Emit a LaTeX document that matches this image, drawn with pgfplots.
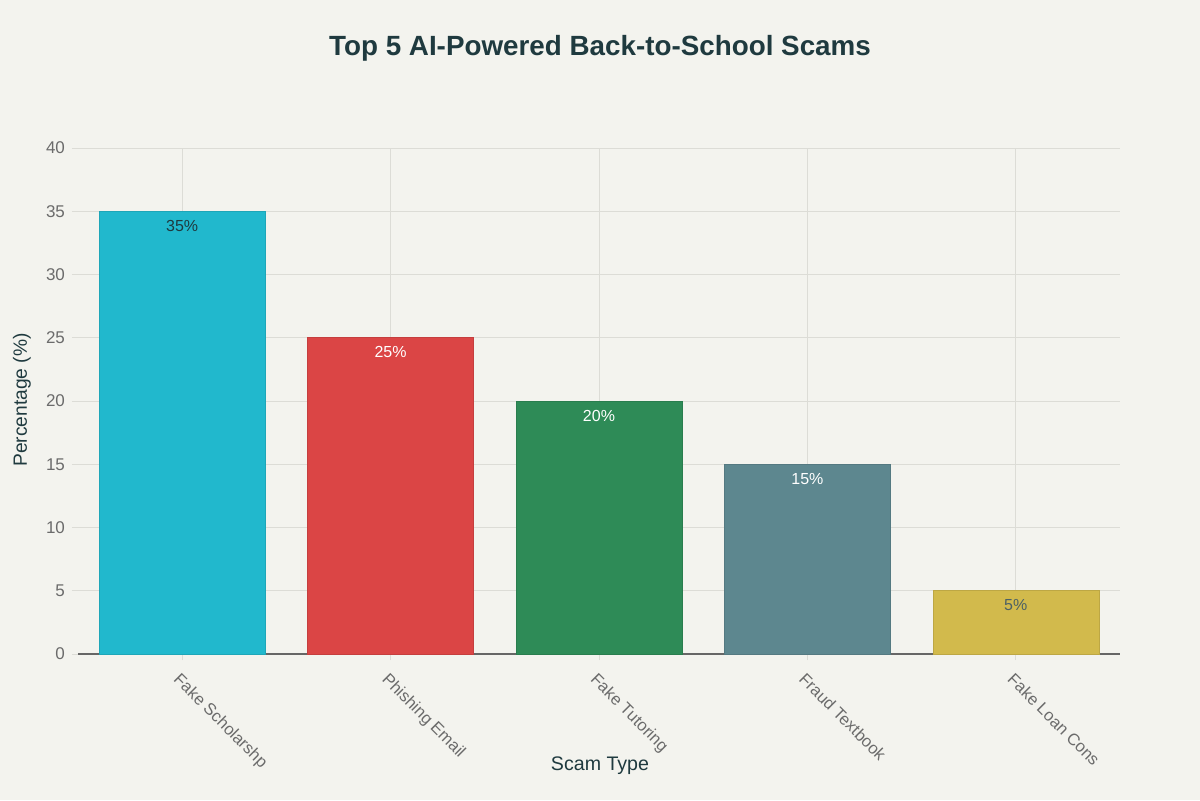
\documentclass[border=0pt]{standalone}
\usepackage{fontspec}
\setmainfont{Liberation Sans}
\usepackage{pgfplots}
\pgfplotsset{compat=1.18}

\definecolor{bg}{HTML}{F3F3EE}
\definecolor{gridc}{HTML}{DCDCD6}
\definecolor{titlec}{HTML}{1F3A3F}
\definecolor{tickc}{HTML}{6B6B6B}
\definecolor{cA}{HTML}{21B8CD}
\definecolor{cB}{HTML}{DB4545}
\definecolor{cC}{HTML}{2E8B57}
\definecolor{cD}{HTML}{5D878F}
\definecolor{cE}{HTML}{D2BA4C}

\begin{document}
\begin{tikzpicture}
  % canvas: 1200x800 px -> 600x400 pt
  \fill[bg] (0,0) rectangle (600pt,400pt);
  \useasboundingbox (0,0) rectangle (600pt,400pt);

  \node[font=\bfseries\fontsize{13.9}{16}\selectfont, text=titlec] at (300pt,376pt) {Top 5 AI-Powered Back-to-School Scams};
  \node[font=\fontsize{9.6}{11}\selectfont, text=titlec, rotate=90] at (11pt,200pt) {Percentage (\%)};
  \node[font=\fontsize{9.8}{11}\selectfont, text=titlec] at (300pt,17pt) {Scam Type};

  \begin{axis}[
    at={(39pt,73pt)}, anchor=south west,
    scale only axis,
    width=521pt, height=253pt,
    ybar, bar width=83pt, bar shift=0pt,
    xmin=-0.5, xmax=4.5,
    ymin=0, ymax=40,
    ytick={0,5,...,40},
    xtick={0,1,2,3,4},
    xticklabels={Fake Scholarshp, Phishing Email, Fake Tutoring, Fraud Textbook, Fake Loan Cons},
    xticklabel style={rotate=-45, anchor=north west, xshift=0.5pt, yshift=-1pt, text=tickc, font=\fontsize{8.3}{9}\selectfont},
    yticklabel style={text=tickc, font=\fontsize{8.5}{10}\selectfont},
    /pgf/number format/assume math mode=true,
    grid=major,
    major grid style={gridc, line width=0.4pt},
    axis x line*=bottom, axis y line*=left,
    y axis line style={draw=none},
    x axis line style={draw=gray!80!black, line width=0.8pt, -},
    tick align=outside,
    major tick length=3pt,
    tick style={gridc, line width=0.5pt},
    nodes near coords={\pgfmathprintnumber{\pgfplotspointmeta}\%},
    every node near coord/.append style={anchor=north, yshift=-1pt, font=\fontsize{8}{9}\selectfont},
  ]
    \addplot[fill=cA, draw=cA!90!black, line width=0.3pt, every node near coord/.append style={text=titlec}] coordinates {(0,35)};
    \addplot[fill=cB, draw=cB!90!black, line width=0.3pt, every node near coord/.append style={text=white}] coordinates {(1,25)};
    \addplot[fill=cC, draw=cC!90!black, line width=0.3pt, every node near coord/.append style={text=white}] coordinates {(2,20)};
    \addplot[fill=cD, draw=cD!90!black, line width=0.3pt, every node near coord/.append style={text=white}] coordinates {(3,15)};
    \addplot[fill=cE, draw=cE!90!black, line width=0.3pt, every node near coord/.append style={text=titlec!80}] coordinates {(4,5)};
  \end{axis}
\end{tikzpicture}
\end{document}
